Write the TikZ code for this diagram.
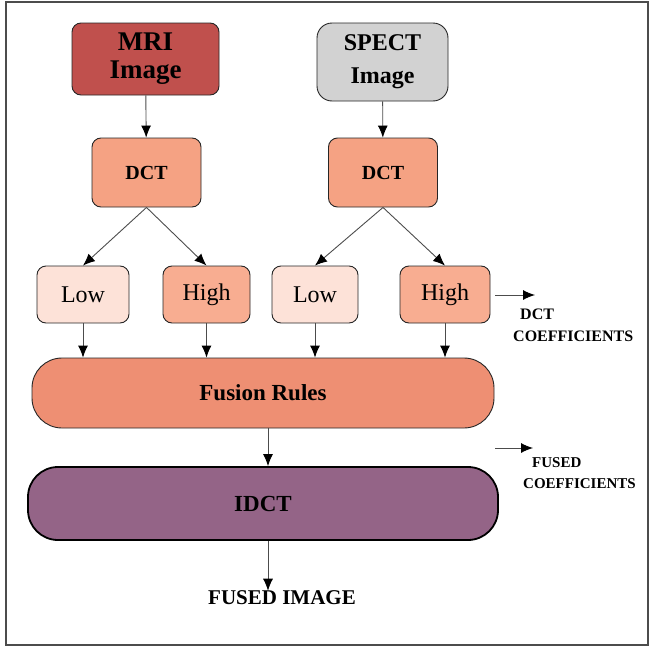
\documentclass[tikz,border=0pt]{standalone}
\usepackage{fontspec}
\setmainfont{Liberation Serif}
\usetikzlibrary{arrows.meta}

\definecolor{mricol}{HTML}{C0504D}
\definecolor{spectcol}{HTML}{D2D2D2}
\definecolor{dctcol}{HTML}{F5A283}
\definecolor{lowcol}{HTML}{FDE2D8}
\definecolor{highcol}{HTML}{F8AD91}
\definecolor{fusecol}{HTML}{EE8F73}
\definecolor{idctcol}{HTML}{946487}

\begin{document}
\begin{tikzpicture}[x=1pt, y=-1pt,
    blk/.style={draw=black!85, line width=0.9pt, rounded corners=9pt, align=center, inner sep=0pt},
    band/.style={blk, rounded corners=30pt, minimum width=#1},
    arr/.style={draw=black!70, line width=0.9pt, -{Latex[length=12pt,width=10pt,color=black]}},
    lbl/.style={font=\bfseries\fontsize{16}{22}\selectfont, align=left, anchor=west, inner sep=0pt}]
    \useasboundingbox (0,0) rectangle (657,648);
    \draw[line width=1.2pt, black!70] (6,2) rectangle (648,645);

    % inputs
    \node[blk, fill=mricol, minimum width=147pt, minimum height=72pt, font=\bfseries\fontsize{27}{28}\selectfont] at (145.5,59) (mri) {MRI\\Image};
    \node[blk, fill=spectcol, rounded corners=15pt, minimum width=131pt, minimum height=78pt, font=\bfseries\fontsize{24}{33}\selectfont] at (382.5,62) (spect) {SPECT\\Image};

    % transforms
    \node[blk, fill=dctcol, minimum width=109pt, minimum height=69pt, font=\bfseries\fontsize{20}{22}\selectfont] at (146.5,172.5) (dct1) {DCT};
    \node[blk, fill=dctcol, minimum width=109pt, minimum height=69pt, font=\bfseries\fontsize{20}{22}\selectfont] at (383,172.5) (dct2) {DCT};

    % sub-bands
    \node[blk, fill=lowcol, minimum width=92pt, minimum height=57pt, font=\fontsize{24}{26}\selectfont] at (83,294.5) (low1) {Low};
    \node[blk, fill=highcol, minimum width=87pt, minimum height=57pt, font=\fontsize{24}{26}\selectfont] at (206.5,294.5) (high1) {High};
    \node[blk, fill=lowcol, minimum width=86pt, minimum height=57pt, font=\fontsize{24}{26}\selectfont] at (315,294.5) (low2) {Low};
    \node[blk, fill=highcol, minimum width=90pt, minimum height=57pt, font=\fontsize{24}{26}\selectfont] at (445,294.5) (high2) {High};

    \node[band=462pt, fill=fusecol, minimum height=70pt, font=\bfseries\fontsize{23}{25}\selectfont] at (263,393) (fusion) {Fusion Rules};
    \node[band=470pt, fill=idctcol, line width=1.8pt, draw=black, minimum height=73pt, font=\bfseries\fontsize{23}{25}\selectfont] at (263,503.5) (idct) {IDCT};
    \node[font=\bfseries\fontsize{21}{23}\selectfont, inner sep=0pt] at (282,598) (fused) {FUSED IMAGE};

    % side labels
    \coordinate (c1a) at (495,295);
    \coordinate (c1b) at (535,295);
    \node[lbl] at (513,325) (dctlbl) {\hspace*{7pt}DCT\\COEFFICIENTS};
    \coordinate (c2a) at (495,448);
    \coordinate (c2b) at (533,448);
    \node[lbl, font=\bfseries\fontsize{15}{21}\selectfont] at (523,473) (fuselbl) {\hspace*{9pt}FUSED\\COEFFICIENTS};

    \draw[arr] (mri) -- (dct1);
    \draw[arr] (spect) -- (dct2);
    \draw[arr] (dct1.south) -- (low1.north);
    \draw[arr] (dct1.south) -- (high1.north);
    \draw[arr] (dct2.south) -- (low2.north);
    \draw[arr] (dct2.south) -- (high2.north);
    \foreach \b in {low1,high1,low2,high2}
        \draw[arr] (\b.south) -- (\b.south |- fusion.north);
    \draw[arr] ([xshift=5pt]fusion.south) -- ([xshift=5pt]idct.north);
    \draw[arr] ([xshift=5pt]idct.south) -- ([xshift=-14pt]fused.north);
    \draw[arr] (c1a) -- (c1b);
    \draw[arr] (c2a) -- (c2b);
\end{tikzpicture}
\end{document}
